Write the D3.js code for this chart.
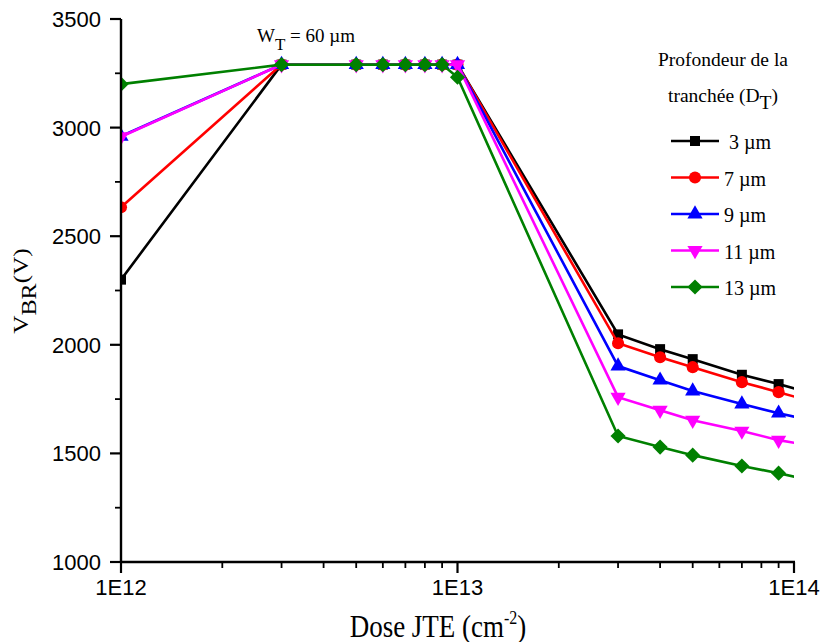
<!DOCTYPE html>
<html><head><meta charset="utf-8">
<script src="https://cdn.jsdelivr.net/npm/d3@7"></script>
<style>body{margin:0;background:#fff}</style>
</head><body>
<svg id="c" width="822" height="642"></svg>
<script>
const doses = [1e12, 3e12, 5e12, 6e12, 7e12, 8e12, 9e12, 1e13, 3e13, 4e13, 5e13, 7e13, 9e13, 1.1e14];
const seriesNames = ["3 µm", "7 µm", "9 µm", "11 µm", "13 µm"];
const seriesColors = ["#000000", "#ff0000", "#0000ff", "#ff00ff", "#008000"];
const seriesSymbols = ["square", "circle", "triangle", "triangleDown", "diamond"];
const v3  = [2300, 3290, 3290, 3290, 3290, 3290, 3290, 3290, 2048, 1980, 1934, 1862, 1819, 1781];
const v7  = [2633, 3290, 3290, 3290, 3290, 3290, 3290, 3290, 2007, 1943, 1897, 1828, 1782, 1744];
const v9  = [2960, 3290, 3290, 3290, 3290, 3290, 3290, 3290, 1902, 1837, 1787, 1727, 1685, 1655];
const v11 = [2958, 3290, 3290, 3290, 3290, 3290, 3290, 3290, 1759, 1699, 1653, 1603, 1561, 1538];
const v13 = [3200, 3290, 3290, 3290, 3290, 3290, 3290, 3232, 1580, 1529, 1492, 1442, 1409, 1379];
const allValues = [v3, v7, v9, v11, v13];
const xTickLabels = ["1E12", "1E13", "1E14"];
const yTicks = [1000, 1500, 2000, 2500, 3000, 3500];

const svg = d3.select("#c");
const L = 121, R = 794, T = 19, B = 562;
const x = d3.scaleLog().domain([1e12, 1e14]).range([L, R]);
const y = d3.scaleLinear().domain([1000, 3500]).range([B, T]);

svg.append("defs").append("clipPath").attr("id", "clip")
  .append("rect").attr("x", L).attr("y", T - 10).attr("width", R - L).attr("height", B - T + 10);

const symType = {
  square: d3.symbolSquare, circle: d3.symbolCircle, triangle: d3.symbolTriangle,
  triangleDown: d3.symbolTriangle, diamond: d3.symbolSquare
};
const symSize = { square: 100, circle: 115, triangle: 100, triangleDown: 100, diamond: 115 };
function symPath(name) {
  return d3.symbol().type(symType[name]).size(symSize[name])();
}
function symTransform(name, px, py) {
  let t = `translate(${px},${py})`;
  if (name === "triangleDown") t += " rotate(180)";
  if (name === "diamond") t += " rotate(45)";
  return t;
}

const plot = svg.append("g").attr("clip-path", "url(#clip)");
const line = d3.line().x((d, i) => x(doses[i])).y(d => y(d));
allValues.forEach((vals, si) => {
  const g = plot.append("g");
  g.append("path").attr("d", line(vals)).attr("fill", "none")
    .attr("stroke", seriesColors[si]).attr("stroke-width", 2.6);
  g.selectAll("path.m").data(vals).enter().append("path").attr("class", "m")
    .attr("d", symPath(seriesSymbols[si]))
    .attr("transform", (d, i) => symTransform(seriesSymbols[si], x(doses[i]), y(d)))
    .attr("fill", seriesColors[si]);
});

// axes
const axFont = "Liberation Sans";
const xAxisG = svg.append("g").attr("transform", `translate(0,${B})`);
const minorX = [];
[1e12, 1e13].forEach(d => { for (let k = 2; k <= 9; k++) minorX.push(d * k); });
xAxisG.append("line").attr("x1", L - 1).attr("x2", R + 1).attr("stroke", "#000").attr("stroke-width", 2.4);
xAxisG.selectAll("line.mn").data(minorX).enter().append("line")
  .attr("x1", d => x(d)).attr("x2", d => x(d)).attr("y1", 0).attr("y2", 6)
  .attr("stroke", "#000").attr("stroke-width", 1.8);
const majorX = [1e12, 1e13, 1e14];
xAxisG.selectAll("line.mj").data(majorX).enter().append("line")
  .attr("x1", d => x(d)).attr("x2", d => x(d)).attr("y1", 0).attr("y2", 11)
  .attr("stroke", "#000").attr("stroke-width", 2.2);
xAxisG.selectAll("text").data(majorX).enter().append("text")
  .attr("x", d => x(d)).attr("y", 33).attr("text-anchor", "middle")
  .attr("font-family", axFont).attr("font-size", 22)
  .text((d, i) => xTickLabels[i]);

const yAxisG = svg.append("g").attr("transform", `translate(${L},0)`);
yAxisG.append("line").attr("y1", T).attr("y2", B + 1).attr("stroke", "#000").attr("stroke-width", 2.4);
const minorY = [1250, 1750, 2250, 2750, 3250];
yAxisG.selectAll("line.mn").data(minorY).enter().append("line")
  .attr("y1", d => y(d)).attr("y2", d => y(d)).attr("x1", 0).attr("x2", -6)
  .attr("stroke", "#000").attr("stroke-width", 1.8);
yAxisG.selectAll("line.mj").data(yTicks).enter().append("line")
  .attr("y1", d => y(d)).attr("y2", d => y(d)).attr("x1", 0).attr("x2", -11)
  .attr("stroke", "#000").attr("stroke-width", 2.2);
yAxisG.selectAll("text").data(yTicks).enter().append("text")
  .attr("x", -20).attr("y", d => y(d) + 8).attr("text-anchor", "end")
  .attr("font-family", axFont).attr("font-size", 22)
  .text(d => d);

const serif = "Liberation Serif";
// axis titles
const xt = svg.append("text").attr("transform", "translate(438,637) scale(1,1.15)")
  .attr("text-anchor", "middle").attr("font-family", serif).attr("font-size", 27);
xt.append("tspan").text("Dose JTE (cm");
xt.append("tspan").attr("font-size", 16).attr("dy", -11).text("-2");
xt.append("tspan").attr("dy", 11).text(")");

const yt = svg.append("text").attr("transform", "translate(28,291) rotate(-90) scale(1.15,1)")
  .attr("text-anchor", "middle").attr("font-family", serif).attr("font-size", 22);
yt.append("tspan").text("V");
yt.append("tspan").attr("font-size", 21).attr("dy", 8).text("BR");
yt.append("tspan").attr("dy", -8).text("(V)");

// annotation
const wt = svg.append("text").attr("x", 257).attr("y", 42).attr("font-family", serif).attr("font-size", 19);
wt.append("tspan").text("W");
wt.append("tspan").attr("dy", 8).attr("font-size", 17).text("T");
wt.append("tspan").attr("dy", -8).text(" = 60 µm");

// legend
const lg = svg.append("g");
lg.append("text").attr("x", 723).attr("y", 66).attr("text-anchor", "middle")
  .attr("font-family", serif).attr("font-size", 19.5).text("Profondeur de la");
const lt = lg.append("text").attr("x", 723).attr("y", 102).attr("text-anchor", "middle")
  .attr("font-family", serif).attr("font-size", 19.5);
lt.append("tspan").text("tranchée (D");
lt.append("tspan").attr("dy", 7).text("T");
lt.append("tspan").attr("dy", -7).text(")");
const legY = [141, 177.5, 214, 250.5, 287];
seriesNames.forEach((nm, i) => {
  const gy = legY[i];
  lg.append("line").attr("x1", 671).attr("x2", 719).attr("y1", gy).attr("y2", gy)
    .attr("stroke", seriesColors[i]).attr("stroke-width", 2.6);
  lg.append("path").attr("d", symPath(seriesSymbols[i]))
    .attr("transform", symTransform(seriesSymbols[i], 695, gy)).attr("fill", seriesColors[i]);
  lg.append("text").attr("x", i === 0 ? 729 : 724).attr("y", gy + 8)
    .attr("font-family", serif).attr("font-size", 20).text(nm);
});
</script>
</body></html>
